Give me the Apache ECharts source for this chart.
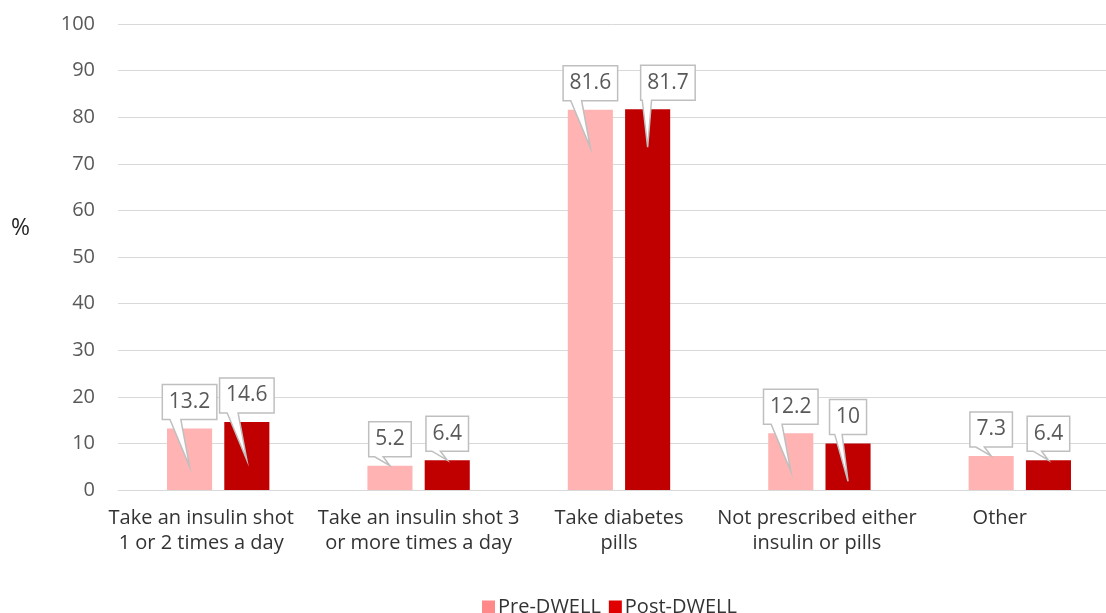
<!DOCTYPE html>
<html>
<head>
<meta charset="utf-8">
<script src="https://cdn.jsdelivr.net/npm/echarts@6/dist/echarts.min.js"></script>
<style>
html,body{margin:0;padding:0;background:#fff;}
#chart{width:1106px;height:613px;}
</style>
</head>
<body>
<div id="chart"></div>
<script>
const categories = [
  'Take an insulin shot\n1 or 2 times a day',
  'Take an insulin shot 3\nor more times a day',
  'Take diabetes\npills',
  'Not prescribed either\ninsulin or pills',
  'Other'
];
const preDwell = [13.2, 5.2, 81.6, 12.2, 7.3];
const postDwell = [14.6, 6.4, 81.7, 10, 6.4];
const yTicks = [0, 10, 20, 30, 40, 50, 60, 70, 80, 90, 100];

const FONT = '"Open Sans", "Noto Sans", sans-serif';
const BAR_W_FRAC = 0.225;
const GAP_FRAC = 0.27;

const measureCtx = document.createElement('canvas').getContext('2d');
function textWidth(t, size) {
  measureCtx.font = size + 'px ' + FONT;
  return measureCtx.measureText(t).width;
}

function boxGeom(api, idx, val, sign) {
  const band = api.size([1, 0])[0];
  const barW = band * BAR_W_FRAC;
  const off = (barW + barW * GAP_FRAC) / 2;
  const cx = api.coord([idx, 0])[0] + sign * off;
  const base = api.coord([idx, 0])[1];
  const top = api.coord([idx, val])[1];
  const txt = String(val);
  const w = textWidth(txt, 21) + 13;
  const h = 35;
  const bottom = top - 9;
  return { cx: cx, base: base, top: top, txt: txt, w: w, h: h, bottom: bottom, left: cx - w / 2 };
}

function calloutRenderer(sign, own, other) {
  return function (params, api) {
    const idx = api.value(0);
    const val = api.value(1);
    const g = boxGeom(api, idx, val, sign);
    let left = g.left;
    let shifted = false;
    if (sign > 0) {
      const p = boxGeom(api, idx, other[idx], -1);
      const pRight = p.left + p.w;
      const sameRow = Math.abs(g.bottom - p.bottom) < 4;
      if (sameRow && left < pRight + 10) { left = pRight + 23; shifted = true; }
    }
    const w = g.w, h = g.h, bottom = g.bottom, cx = g.cx;
    const tipY = (g.base - g.top) > 40 ? g.top + 38 : g.top;
    const b1 = shifted ? left + 0.03 * w : left + 0.14 * w;
    const b2 = shifted ? left + 0.2 * w : left + 0.34 * w;
    const pts = [
      [left, bottom - h], [left + w, bottom - h], [left + w, bottom],
      [b2, bottom], [cx, tipY], [b1, bottom], [left, bottom]
    ];
    return {
      type: 'group',
      children: [
        { type: 'polygon', shape: { points: pts },
          style: { fill: '#ffffff', stroke: '#BFBFBF', lineWidth: 1.5, lineJoin: 'miter' } },
        { type: 'text', x: left + w / 2, y: bottom - h / 2,
          style: { text: g.txt, fill: '#595959', font: '21px ' + FONT,
                   align: 'center', verticalAlign: 'middle' } }
      ]
    };
  };
}

const labelShift = [34, 0, 0, 5, 40];

const chart = echarts.init(document.getElementById('chart'), null, { renderer: 'canvas' });
chart.setOption({
  animation: false,
  backgroundColor: '#ffffff',
  grid: { left: 118, top: 24, width: 1002, height: 466, containLabel: false, outerBoundsMode: 'none' },
  graphic: [
    { type: 'text', left: 11, top: 217,
      style: { text: '%', font: '23px ' + FONT, fill: '#262626' } }
  ],
  legend: {
    left: 477, top: 592,
    itemWidth: 13, itemHeight: 13, itemGap: 8,
    textStyle: { fontFamily: FONT, fontSize: 20, color: '#333333', padding: [0, 0, 0, -2] },
    data: [
      { name: 'Pre-DWELL', icon: 'rect', itemStyle: { color: '#FF8888' } },
      { name: 'Post-DWELL', icon: 'rect', itemStyle: { color: '#E00000' } }
    ]
  },
  xAxis: {
    type: 'category',
    data: categories,
    axisLine: { show: true, lineStyle: { color: '#D9D9D9', width: 1 } },
    axisTick: { show: false },
    axisLabel: {
      interval: 0, margin: 16,
      formatter: function (v, i) {
        return v.split('\n').map(function (l) { return '{c' + i + '|' + l + '}'; }).join('\n');
      },
      rich: (function () {
        const r = {};
        labelShift.forEach(function (s, i) {
          r['c' + i] = { fontFamily: FONT, fontSize: 20, color: '#333333', lineHeight: 25,
                         padding: [0, s, 0, 0] };
        });
        return r;
      })()
    }
  },
  yAxis: {
    type: 'value', min: yTicks[0], max: yTicks[yTicks.length - 1], interval: 10,
    axisLine: { show: false }, axisTick: { show: false },
    axisLabel: { margin: 23, fontFamily: FONT, fontSize: 20, color: '#595959' },
    splitLine: { lineStyle: { color: '#D9D9D9', width: 1 } }
  },
  series: [
    { name: 'Pre-DWELL', type: 'bar', data: preDwell, barWidth: (BAR_W_FRAC * 100) + '%',
      barGap: (GAP_FRAC * 100) + '%', itemStyle: { color: '#FFB3B3' }, z: 2 },
    { name: 'Post-DWELL', type: 'bar', data: postDwell, barWidth: (BAR_W_FRAC * 100) + '%',
      barGap: (GAP_FRAC * 100) + '%', itemStyle: { color: '#C00000' }, z: 2 },
    { type: 'custom', renderItem: calloutRenderer(-1, preDwell, postDwell), z: 5, silent: true,
      data: preDwell.map(function (v, i) { return [i, v]; }), encode: { x: 0, y: 1 } },
    { type: 'custom', renderItem: calloutRenderer(1, postDwell, preDwell), z: 5, silent: true,
      data: postDwell.map(function (v, i) { return [i, v]; }), encode: { x: 0, y: 1 } }
  ]
});
</script>
</body>
</html>
